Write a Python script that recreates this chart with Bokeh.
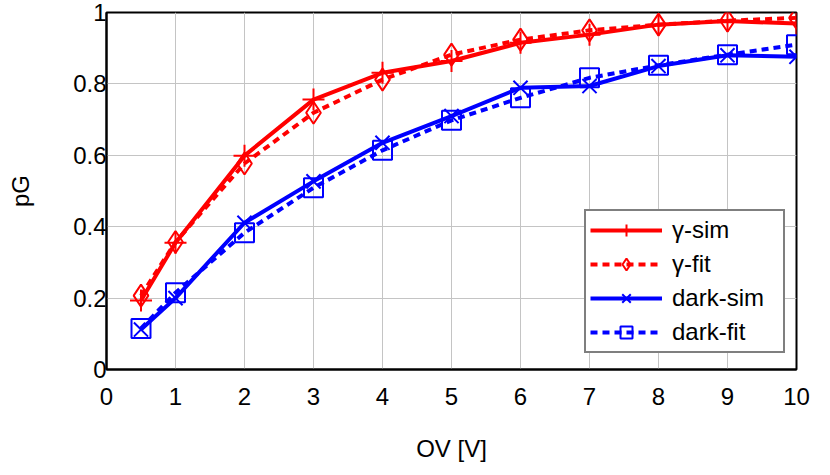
from bokeh.plotting import figure
from bokeh.models import FixedTicker, Legend, LegendItem, Range1d
from bokeh.embed import file_html
from bokeh.resources import INLINE

# ---- data ----
ov = [0.5, 1, 2, 3, 4, 5, 6, 7, 8, 9, 10]
gamma_sim = [0.193, 0.355, 0.599, 0.756, 0.831, 0.864, 0.915, 0.938, 0.966, 0.976, 0.969]
gamma_fit = [0.207, 0.357, 0.577, 0.719, 0.812, 0.882, 0.924, 0.950, 0.966, 0.977, 0.985]
dark_sim = [0.112, 0.200, 0.411, 0.527, 0.635, 0.710, 0.789, 0.794, 0.850, 0.880, 0.876]
dark_fit = [0.115, 0.215, 0.383, 0.509, 0.614, 0.698, 0.761, 0.817, 0.852, 0.882, 0.910]

x_ticks = [0, 1, 2, 3, 4, 5, 6, 7, 8, 9, 10]
y_ticks = [0, 0.2, 0.4, 0.6, 0.8, 1.0]
y_tick_labels = ["0", "0.2", "0.4", "0.6", "0.8", "1"]

FONT = "Liberation Sans"
RED = "#ff0000"
BLUE = "#0000ff"

p = figure(width=828, height=472, output_backend="svg", toolbar_location=None,
           x_range=Range1d(0, 10), y_range=Range1d(0, 1),
           min_border_left=106, min_border_right=32, min_border_top=12, min_border_bottom=103)

p.outline_line_color = "black"
p.outline_line_width = 2
p.outline_line_alpha = 1.0
p.background_fill_color = "white"
p.border_fill_color = "white"

for ax in (p.xaxis[0], p.yaxis[0]):
    ax.axis_line_color = "black"
    ax.axis_line_width = 2
    ax.major_tick_in = 0
    ax.major_tick_out = 0
    ax.minor_tick_line_color = None
    ax.major_label_text_font = FONT
    ax.major_label_text_font_size = "24px"
    ax.major_label_text_color = "black"
    ax.axis_label_text_font = FONT
    ax.axis_label_text_font_size = "24px"
    ax.axis_label_text_font_style = "normal"
    ax.axis_label_text_color = "black"

p.xaxis[0].ticker = FixedTicker(ticks=x_ticks)
p.yaxis[0].ticker = FixedTicker(ticks=y_ticks)
p.yaxis[0].major_label_overrides = {t: l for t, l in zip(y_ticks, y_tick_labels)}
p.xaxis[0].major_label_standoff = 18
p.yaxis[0].major_label_standoff = 0
p.xaxis[0].axis_label = "OV [V]"
p.yaxis[0].axis_label = "pG"
p.xaxis[0].axis_label_standoff = 27
p.yaxis[0].axis_label_standoff = 36

p.grid.grid_line_color = "#c4c4c4"
p.grid.grid_line_width = 1

# series
l1 = p.line(ov, gamma_sim, line_color=RED, line_width=4)
m1 = p.scatter(ov, gamma_sim, marker="cross", size=22, line_color=RED, line_width=2, fill_color=None)

l2 = p.line(ov, gamma_fit, line_color=RED, line_width=4, line_dash="7 5")
m2 = p.scatter(ov, gamma_fit, marker="diamond", size=22, line_color=RED, line_width=2, fill_color=None)

l3 = p.line(ov, dark_sim, line_color=BLUE, line_width=4)
m3 = p.scatter(ov, dark_sim, marker="x", size=20, line_color=BLUE, line_width=2, fill_color=None)

l4 = p.line(ov, dark_fit, line_color=BLUE, line_width=4, line_dash="7 5")
m4 = p.scatter(ov, dark_fit, marker="square", size=19, line_color=BLUE, line_width=2, fill_color=None)

legend = Legend(items=[
    LegendItem(label="γ-sim", renderers=[l1, m1]),
    LegendItem(label="γ-fit", renderers=[l2, m2]),
    LegendItem(label="dark-sim", renderers=[l3, m3]),
    LegendItem(label="dark-fit", renderers=[l4, m4]),
], location=(478, 16))
legend.border_line_color = "black"
legend.border_line_width = 2
legend.background_fill_color = "white"
legend.background_fill_alpha = 1.0
legend.label_text_font = FONT
legend.label_text_font_size = "24px"
legend.label_text_color = "black"
legend.glyph_width = 72
legend.glyph_height = 30
legend.label_height = 30
legend.label_width = 107
legend.label_standoff = 10
legend.spacing = 4
legend.padding = 4
legend.margin = 0
p.add_layout(legend, "center")

open("out.html", "w").write(file_html(p, INLINE))
